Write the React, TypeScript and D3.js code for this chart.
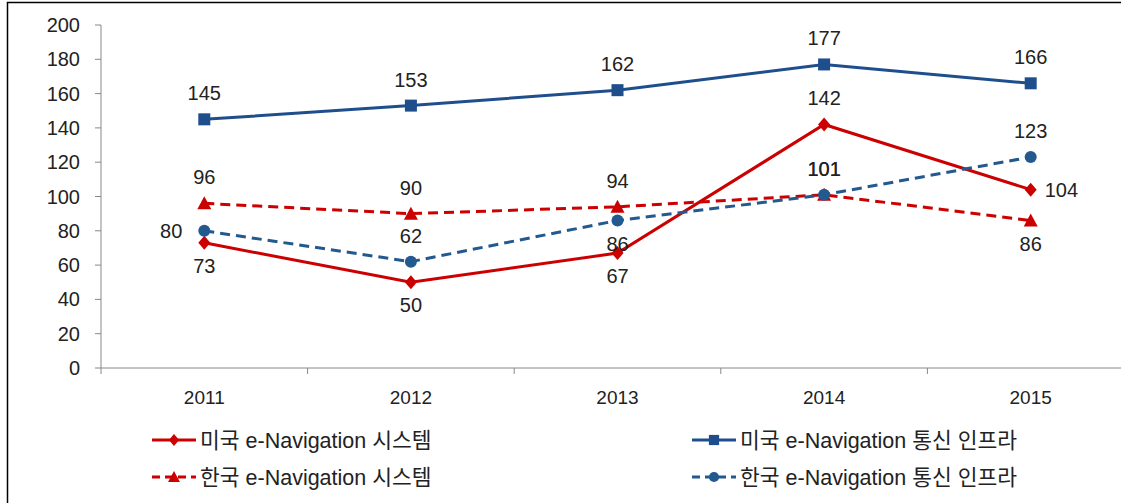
import React from "react";
import * as d3 from "d3";

const years = ["2011", "2012", "2013", "2014", "2015"];
const usSystem = [73, 50, 67, 142, 104];
const krSystem = [96, 90, 94, 101, 86];
const usInfra = [145, 153, 162, 177, 166];
const krInfra = [80, 62, 86, 101, 123];
const yTicks = [0, 20, 40, 60, 80, 100, 120, 140, 160, 180, 200];

const RED = "#CC0000";
const BLUE = "#1F4E8C";
const BLUE2 = "#22598F";

type Pos = "above" | "below" | "left" | "right";

const series = [
  { name: "미국 e-Navigation 시스템", values: usSystem, color: RED, dashed: false, marker: "diamond", labels: ["below", "below", "below", "above", "right"] as Pos[] },
  { name: "한국 e-Navigation 시스템", values: krSystem, color: RED, dashed: true, marker: "triangle", labels: ["above", "above", "above", "above", "below"] as Pos[] },
  { name: "미국 e-Navigation 통신 인프라", values: usInfra, color: BLUE, dashed: false, marker: "square", labels: ["above", "above", "above", "above", "above"] as Pos[] },
  { name: "한국 e-Navigation 통신 인프라", values: krInfra, color: BLUE2, dashed: true, marker: "circle", labels: ["left", "above", "below", "above", "above"] as Pos[] },
];

const FONT = "'Liberation Sans', 'Noto Sans CJK KR', sans-serif";

function Marker({ type, x, y, color, s = 1 }: { type: string; x: number; y: number; color: string; s?: number }) {
  if (type === "square") return <rect x={x - 6 * s} y={y - 6 * s} width={12 * s} height={12 * s} fill={color} />;
  if (type === "circle") return <circle cx={x} cy={y} r={6 * s} fill={color} />;
  if (type === "triangle") return <path d={`M${x},${y - 7 * s}L${x + 7 * s},${y + 6 * s}L${x - 7 * s},${y + 6 * s}Z`} fill={color} />;
  return <path d={`M${x},${y - 7 * s}L${x + 6 * s},${y}L${x},${y + 7 * s}L${x - 6 * s},${y}Z`} fill={color} />;
}

export default function App() {
  const W = 1121, H = 503;
  const left = 101, bottom = 368, top = 25;
  const bandW = 206.6;
  const x = d3.scaleBand<string>().domain(years).range([left, left + bandW * years.length]);
  const y = d3.scaleLinear().domain([0, 200]).range([bottom, top]);
  const cx = (yr: string) => (x(yr) as number) + x.bandwidth() / 2;
  const line = (vals: number[]) =>
    d3.line<number>().x((_, i) => cx(years[i])).y((v) => y(v))(vals) as string;

  const legendPos = [
    { x: 152, y: 440 },
    { x: 152, y: 477 },
    { x: 692, y: 440 },
    { x: 692, y: 477 },
  ];

  return (
    <svg width={W} height={H} style={{ position: "absolute", left: 0, top: 0, fontFamily: FONT }}>
      <rect x={0} y={0} width={W} height={H} fill="#fff" />
      <rect x={7.5} y={2.5} width={W + 20} height={H + 20} fill="none" stroke="#000" strokeWidth={1.5} />
      {/* y axis */}
      <line x1={left} x2={left} y1={top} y2={bottom} stroke="#888" strokeWidth={1} />
      {yTicks.map((t) => (
        <g key={t}>
          <line x1={left - 6} x2={left} y1={y(t)} y2={y(t)} stroke="#888" />
          <text x={80} y={y(t)} dy="0.35em" textAnchor="end" fontSize={20} fill="#222">{t}</text>
        </g>
      ))}
      {/* x axis */}
      <line x1={left} x2={W} y1={bottom} y2={bottom} stroke="#888" />
      {years.map((yr) => (
        <g key={yr}>
          <line x1={x(yr) as number} x2={x(yr) as number} y1={bottom} y2={bottom + 6} stroke="#888" />
          <text x={cx(yr)} y={397} dy="0.35em" textAnchor="middle" fontSize={19} fill="#222">{yr}</text>
        </g>
      ))}
      {/* lines */}
      {series.map((s) => (
        <path key={s.name} d={line(s.values)} fill="none" stroke={s.color} strokeWidth={3}
          strokeDasharray={s.dashed ? "10,6" : undefined} />
      ))}
      {series.map((s) =>
        s.values.map((v, i) => <Marker key={s.name + i} type={s.marker} x={cx(years[i])} y={y(v)} color={s.color} />)
      )}
      {/* labels */}
      {series.map((s) =>
        s.values.map((v, i) => {
          const px = cx(years[i]);
          const py = y(v);
          const p = s.labels[i];
          let lx = px, ly = py, anchor = "middle";
          if (p === "above") ly = py - 26;
          else if (p === "below") ly = py + 23;
          else if (p === "left") { lx = px - 22; anchor = "end"; }
          else { lx = px + 14; anchor = "start"; }
          return (
            <text key={s.name + "l" + i} x={lx} y={ly} dy="0.35em" textAnchor={anchor} fontSize={20} fill="#222">{v}</text>
          );
        })
      )}
      {/* legend */}
      {series.map((s, i) => {
        const lp = legendPos[i];
        return (
          <g key={s.name + "leg"}>
            <line x1={lp.x} x2={lp.x + 44} y1={lp.y} y2={lp.y} stroke={s.color} strokeWidth={3}
              strokeDasharray={s.dashed ? "8,5" : undefined} />
            <Marker type={s.marker} x={lp.x + 22} y={lp.y} color={s.color} s={0.85} />
            <text x={lp.x + 48} y={lp.y} dy="0.35em" fontSize={21.5} fill="#222">{s.name}</text>
          </g>
        );
      })}
    </svg>
  );
}
